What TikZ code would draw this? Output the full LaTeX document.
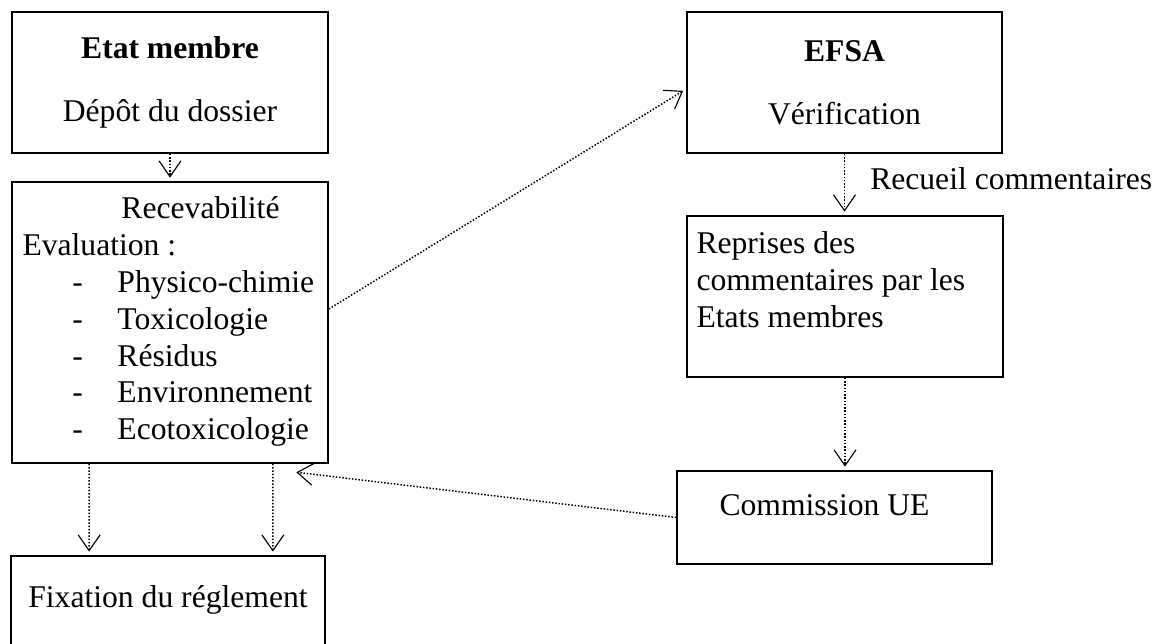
\documentclass[tikz,border=0pt]{standalone}
\usepackage{fontspec}
\setmainfont{Liberation Serif}
\usetikzlibrary{arrows.meta,positioning}
\newcommand{\tiret}[1]{\hspace*{1cm}\makebox[0.9cm][l]{-}#1}

\begin{document}
\begin{tikzpicture}[x=0.02cm,y=-0.02cm,
    >={Straight Barb[length=9pt,width=12.5pt,line width=0.65pt]},
    box/.style={draw,rectangle,line width=1pt,inner sep=0pt,minimum width=6.32cm,
        align=center,font=\fontsize{18}{21}\selectfont},
    txt/.style={inner sep=0pt,align=left,font=\fontsize{18}{21}\selectfont},
    flow/.style={->,densely dotted,line width=0.85pt,shorten >=2pt}]
    \useasboundingbox (0,0) rectangle (1156,643);

    \node[box,minimum height=2.82cm] (etat) at (170,82.5)
        {\textbf{Etat membre}\\[15pt]Dépôt du dossier};
    \node[box,minimum height=5.62cm] (recev) at (170,322.5) {};
    \node[box,minimum width=6.28cm,minimum height=2.82cm] (fix) at (168,626.5) {};
    \node[box,minimum width=6.3cm,minimum height=2.82cm] (efsa) at (844.5,82.5)
        {\textbf{EFSA}\\[15pt]Vérification};
    \node[box,minimum height=3.22cm] (repr) at (845,296.5) {};
    \node[box,minimum width=6.3cm,minimum height=1.86cm] (comm) at (834.5,517.5) {};

    \node[txt,below right=0.3cm and 0.22cm of recev.north west] (recev-txt)
        {\hspace*{1.98cm}Recevabilité\\
         Evaluation :\\
         \tiret{Physico-chimie}\\
         \tiret{Toxicologie}\\
         \tiret{Résidus}\\
         \tiret{Environnement}\\
         \tiret{Ecotoxicologie}};
    \node[txt,below right=0.32cm and 0.2cm of repr.north west] (repr-txt)
        {Reprises des\\ commentaires par les\\ Etats membres};
    \node[txt,below right=0.49cm and 0.86cm of comm.north west] (comm-txt) {Commission UE};
    \node[txt,below=0.61cm of fix.north] (fix-txt) {Fixation du réglement};

    \coordinate (cue) at ([shift={(-36,8)}]recev.south east);

    \path[flow]
    (etat.south) edge (recev.north)
    ([yshift=0.27cm]recev.east) edge ([yshift=-0.13cm]efsa.west)
    (efsa.south) edge node[txt,right=0.5cm,pos=0.4] (recueil) {Recueil commentaires}
        (efsa.south |- repr.north)
    (repr.south) edge (repr.south |- comm.north)
    (comm.west) edge (cue)
    ([xshift=1.56cm]recev.south west) edge ([xshift=1.58cm]fix.north west)
    ([xshift=-1.12cm]recev.south east) edge ([xshift=-1.06cm]fix.north east);
\end{tikzpicture}
\end{document}
